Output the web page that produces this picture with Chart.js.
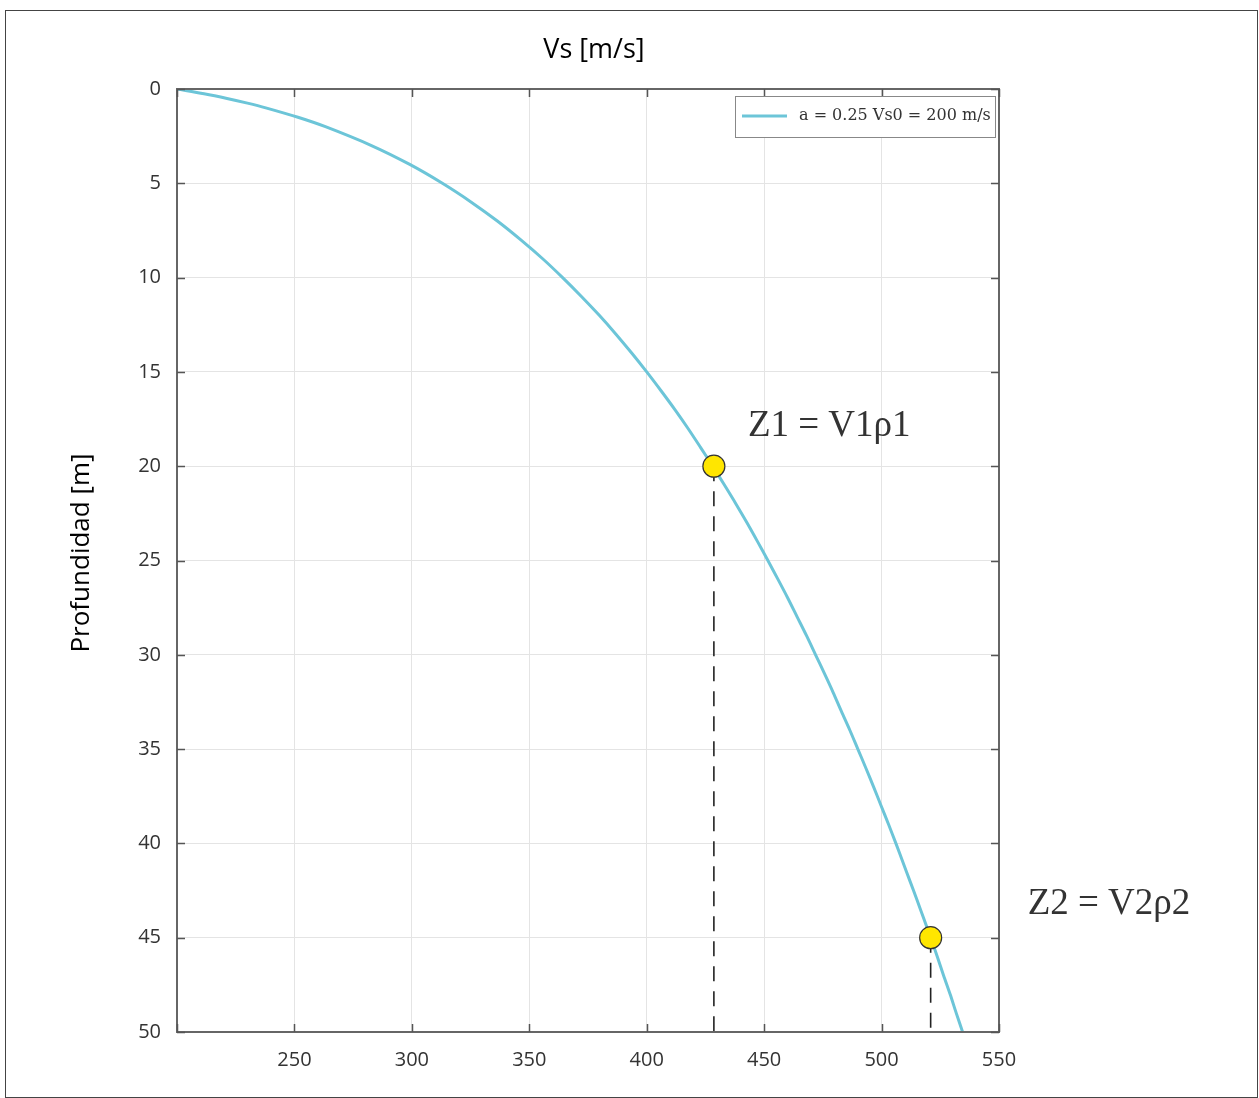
<!DOCTYPE html>
<html>
<head>
<meta charset="utf-8">
<script src="https://cdn.jsdelivr.net/npm/chart.js@4.4.1/dist/chart.umd.min.js"></script>
<style>
  html, body { margin: 0; padding: 0; background: #fff; }
  #wrap { width: 1259px; height: 1098px; position: relative; }
</style>
</head>
<body>
<div id="wrap"><canvas id="vs_profile_chart"></canvas></div>
<script>
// Vs profile vs depth, a = 0.25, Vs0 = 200 m/s
const depth = [0, 0.25, 0.5, 0.75, 1, 1.5, 2, 3, 4, 5, 6, 7, 8, 9, 10, 11, 12, 13, 14, 15, 16, 17, 18, 19, 20,
    21, 22, 23, 24, 25, 26, 27, 28, 29, 30, 31, 32, 33, 34, 35, 36, 37, 38, 39, 40, 41, 42, 43, 44, 45,
    46, 47, 48, 49, 50];
const vs = [200.0, 211.5, 221.3, 230.0, 237.8, 251.5, 263.2, 282.8, 299.1, 313.0, 325.3, 336.4, 346.4, 355.7, 364.2,
    372.2, 379.8, 386.9, 393.6, 400.0, 406.1, 412.0, 417.6, 422.9, 428.1,
    433.1, 438.0, 442.7, 447.2, 451.6, 455.9, 460.1, 464.1, 468.1, 471.9, 475.7, 479.4, 482.9, 486.5, 489.9,
    493.3, 496.6, 499.8, 503.0, 506.1, 509.1, 512.1, 515.1, 518.0, 520.9,
    523.7, 526.4, 529.2, 531.8, 534.5];

// interface points
const markDepth = [20, 45];
const markVs = [428.6, 520.9];
const markLabels = ['Z1 = V1\u03C11', 'Z2 = V2\u03C12'];

const xTicks = [200, 250, 300, 350, 400, 450, 500, 550];
const yTicks = [0, 5, 10, 15, 20, 25, 30, 35, 40, 45, 50];

const legendText = 'a = 0.25 Vs0 = 200 m/s';
const xTitle = 'Vs [m/s]';
const yTitle = 'Profundidad [m]';

const curveColor = '#6cc5d8';

let profilePoints = [];
for (let i = 0; i < depth.length; i++) {
    profilePoints.push({x: vs[i], y: depth[i]});
}
let markPoints = [];
for (let i = 0; i < markDepth.length; i++) {
    markPoints.push({x: markVs[i], y: markDepth[i]});
}

let datasets = [{
    label: legendText,
    data: profilePoints,
    showLine: true,
    borderColor: curveColor,
    borderWidth: 3,
    pointRadius: 0,
    tension: 0.3,
    order: 3
}];
// dashed drop lines from each point down to the bottom axis
markPoints.forEach(function (p) {
    datasets.push({
        label: '',
        data: [{x: p.x, y: p.y}, {x: p.x, y: 50}],
        showLine: true,
        borderColor: '#222',
        borderWidth: 1.6,
        borderDash: [15, 10],
        pointRadius: 0,
        order: 2
    });
});
datasets.push({
    label: '',
    data: markPoints,
    showLine: false,
    pointRadius: 11,
    pointBackgroundColor: '#ffe600',
    pointBorderColor: '#333',
    pointBorderWidth: 1.2,
    order: 1
});

// frame, inward ticks, titles, legend box and point labels
const decorPlugin = {
    id: 'decor',
    afterDraw: function (chart) {
        const c = chart.ctx;
        const a = chart.chartArea;
        const xs = chart.scales.x;
        const ys = chart.scales.y;
        c.save();

        // outer figure border
        c.strokeStyle = '#444';
        c.lineWidth = 1;
        c.strokeRect(5.5, 10.5, 1252, 1087);

        // axes box
        c.strokeStyle = '#666';
        c.lineWidth = 2;
        c.strokeRect(a.left, a.top, a.right - a.left, a.bottom - a.top);

        // inward tick marks on every side
        c.lineWidth = 1.5;
        c.strokeStyle = '#555';
        xTicks.forEach(function (v) {
            let px = Math.round(xs.getPixelForValue(v)) + 0.5;
            c.beginPath();
            c.moveTo(px, a.top); c.lineTo(px, a.top + 8);
            c.moveTo(px, a.bottom); c.lineTo(px, a.bottom - 8);
            c.stroke();
        });
        yTicks.forEach(function (v) {
            let py = Math.round(ys.getPixelForValue(v)) + 0.5;
            c.beginPath();
            c.moveTo(a.left, py); c.lineTo(a.left + 8, py);
            c.moveTo(a.right, py); c.lineTo(a.right - 8, py);
            c.stroke();
        });

        // titles
        c.fillStyle = '#000';
        c.font = '27px "Open Sans", sans-serif';
        c.textAlign = 'center';
        c.textBaseline = 'middle';
        c.fillText(xTitle, (a.left + a.right) / 2 + 6, 50);
        c.font = '26px "Open Sans", sans-serif';
        c.save();
        c.translate(82, 553);
        c.rotate(-Math.PI / 2);
        c.fillText(yTitle, 0, 0);
        c.restore();

        // legend box in the upper right corner
        let lx = a.right - 264, ly = a.top + 7, lw = 260, lh = 41;
        c.fillStyle = '#fff';
        c.fillRect(lx, ly, lw, lh);
        c.strokeStyle = '#888';
        c.lineWidth = 1;
        c.strokeRect(lx + 0.5, ly + 0.5, lw, lh);
        c.strokeStyle = curveColor;
        c.lineWidth = 3;
        c.beginPath();
        c.moveTo(lx + 7, ly + 20); c.lineTo(lx + 52, ly + 20);
        c.stroke();
        c.fillStyle = '#333';
        c.font = '16px "DejaVu Serif", serif';
        c.textAlign = 'left';
        c.fillText(legendText, lx + 64, ly + 20);

        // point labels
        c.font = '37px "Liberation Serif", serif';
        c.fillStyle = '#333';
        const offs = [{dx: 34, dy: -40}, {dx: 97, dy: -33}];
        markPoints.forEach(function (p, i) {
            let px = xs.getPixelForValue(p.x);
            let py = ys.getPixelForValue(p.y);
            c.fillText(markLabels[i], px + offs[i].dx, py + offs[i].dy);
        });
        c.restore();
    }
};

let ctx = document.getElementById('vs_profile_chart').getContext('2d');
const profileChart = new Chart(ctx, {
    type: 'scatter',
    data: {datasets: datasets},
    plugins: [decorPlugin],
    options: {
        responsive: true,
        maintainAspectRatio: false,
        animation: false,
        layout: {
            padding: {left: 0, top: 89, right: 260, bottom: 0}
        },
        plugins: {
            legend: {display: false},
            tooltip: {enabled: false}
        },
        scales: {
            x: {
                type: 'linear',
                position: 'bottom',
                min: 200,
                max: 550,
                afterBuildTicks: function (scale) {
                    scale.ticks = xTicks.map(function (v) { return {value: v}; });
                },
                afterFit: function (scale) { scale.height = 66; },
                border: {display: false},
                grid: {color: '#e4e4e4', lineWidth: 1, drawTicks: false},
                ticks: {
                    padding: 16,
                    color: '#333',
                    font: {family: '"Open Sans", sans-serif', size: 20},
                    callback: function (v) { return v === 200 ? '' : v; }
                }
            },
            y: {
                type: 'linear',
                reverse: true,
                min: 0,
                max: 50,
                afterBuildTicks: function (scale) {
                    scale.ticks = yTicks.map(function (v) { return {value: v}; });
                },
                afterFit: function (scale) { scale.width = 177; },
                border: {display: false},
                grid: {color: '#e4e4e4', lineWidth: 1, drawTicks: false},
                ticks: {
                    padding: 16,
                    color: '#333',
                    font: {family: '"Open Sans", sans-serif', size: 20}
                }
            }
        }
    }
});
</script>
</body>
</html>
